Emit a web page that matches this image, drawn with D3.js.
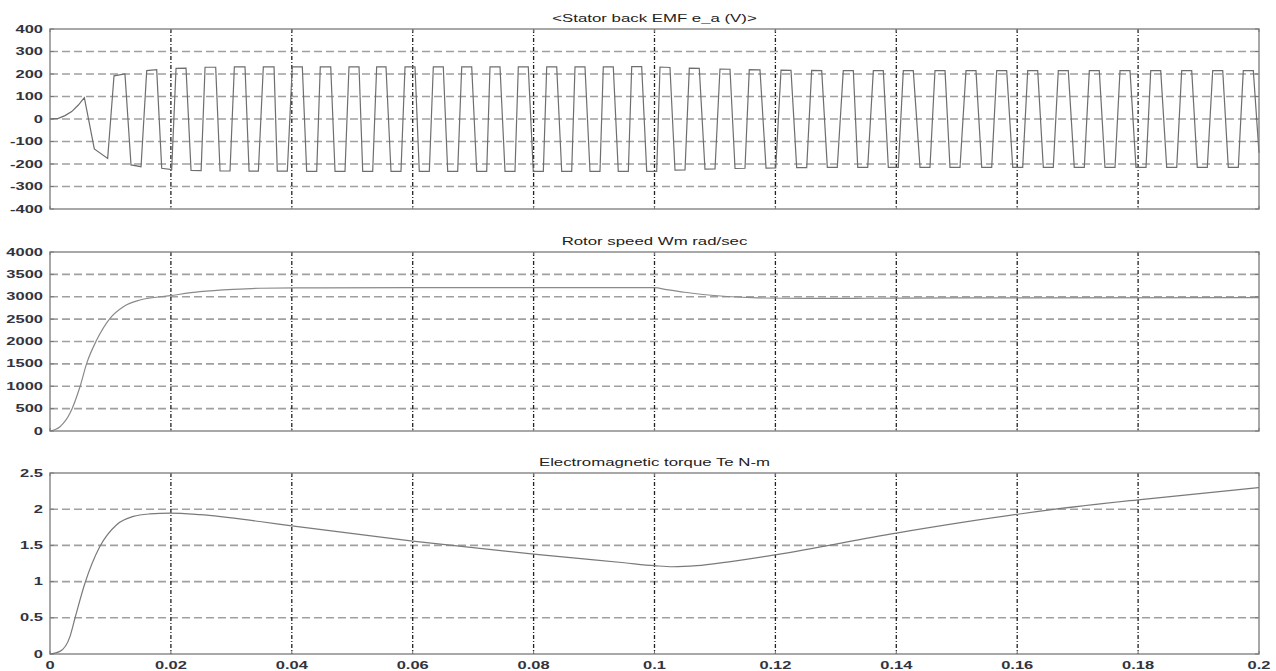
<!DOCTYPE html>
<html>
<head>
<meta charset="utf-8">
<script src="https://cdn.jsdelivr.net/npm/d3@7"></script>
<style>
  body { margin: 0; background: #fff; }
  svg { display: block; }
</style>
</head>
<body>
<div id="chart"></div>
<script>
// x axis of all three panels
var xTicks = [0, 0.02, 0.04, 0.06, 0.08, 0.1, 0.12, 0.14, 0.16, 0.18, 0.2];
var xTickLabels = ["0", "0.02", "0.04", "0.06", "0.08", "0.1", "0.12", "0.14", "0.16", "0.18", "0.2"];

var titles = ["<Stator back EMF e_a (V)>", "Rotor speed Wm rad/sec", "Electromagnetic torque Te N-m"];

var emfTicks = [-400, -300, -200, -100, 0, 100, 200, 300, 400];
var speedTicks = [0, 500, 1000, 1500, 2000, 2500, 3000, 3500, 4000];
var torqueTicks = [0, 0.5, 1, 1.5, 2, 2.5];

// back emf corners [t, volts]
var emfPoints = [
  [0, 0], [0.00138, 3], [0.00248, 15], [0.00359, 33], [0.00469, 62], [0.00568, 95],
  [0.00733, -133], [0.00954, -175],
  [0.01059, 192], [0.0124, 200], [0.0134, -204], [0.01506, -212],
  [0.016, 215], [0.01765, 219], [0.01848, -219], [0.02013, -225],
  [0.02085, 225], [0.0225, 226], [0.02333, -228], [0.025, -229],
  [0.02565, 230], [0.02741, 230], [0.02813, -231], [0.02978, -231],
  [0.0305, 232], [0.03226, 232], [0.03293, -232], [0.03447, -232],
  [0.03529, 232], [0.03706, 232], [0.0376, -232], [0.03926, -232],
  [0.04008, 232], [0.04174, 232], [0.04246, -233], [0.04412, -233],
  [0.04471, 232], [0.04644, 232], [0.04715, -233], [0.0488, -233],
  [0.04946, 232], [0.05112, 232], [0.05173, -233], [0.05338, -233],
  [0.05404, 232], [0.05558, 232], [0.05641, -233], [0.05806, -233],
  [0.05873, 232], [0.06038, 232], [0.06109, -233], [0.06275, -233],
  [0.06341, 232], [0.06506, 232], [0.06579, -233], [0.06744, -233],
  [0.06811, 232], [0.06976, 232], [0.07059, -233], [0.07224, -233],
  [0.07279, 232], [0.07444, 232], [0.07527, -233], [0.07692, -233],
  [0.07747, 232], [0.07912, 232], [0.07995, -233], [0.08161, -233],
  [0.08217, 232], [0.08382, 232], [0.08465, -233], [0.0863, -233],
  [0.08685, 232], [0.0885, 232], [0.08933, -233], [0.09098, -233],
  [0.09153, 232], [0.09318, 232], [0.09401, -233], [0.09567, -233],
  [0.09623, 233], [0.09788, 233], [0.09871, -233], [0.10036, -233],
  [0.10091, 231], [0.10256, 229], [0.10339, -227], [0.10505, -226],
  [0.10576, 226], [0.10741, 225], [0.10835, -223], [0.11001, -222],
  [0.11083, 222], [0.11249, 221], [0.11332, -220], [0.11497, -219],
  [0.11568, 219], [0.11745, 218], [0.11845, -218], [0.12005, -217],
  [0.12093, 217], [0.12258, 216], [0.12352, -216], [0.12518, -216],
  [0.126, 216], [0.12766, 215], [0.12859, -215], [0.13024, -215],
  [0.13123, 215], [0.13289, 215], [0.13362, -215], [0.13527, -215],
  [0.1362, 215], [0.13785, 215], [0.13868, -215], [0.14033, -215],
  [0.14116, 215], [0.14281, 215], [0.14392, -215], [0.14557, -215],
  [0.1464, 215], [0.14806, 215], [0.14888, -215], [0.15054, -215],
  [0.15153, 215], [0.15318, 215], [0.15413, -215], [0.15578, -215],
  [0.15661, 215], [0.15826, 215], [0.15926, -215], [0.16091, -215],
  [0.16174, 215], [0.16339, 215], [0.16432, -215], [0.16597, -215],
  [0.1668, 215], [0.16845, 215], [0.16944, -215], [0.1711, -215],
  [0.17193, 215], [0.17358, 215], [0.17452, -215], [0.17618, -215],
  [0.17701, 215], [0.17866, 215], [0.17965, -215], [0.18131, -215],
  [0.18209, 215], [0.18374, 215], [0.18473, -215], [0.18639, -215],
  [0.18721, 215], [0.18887, 215], [0.18979, -215], [0.19145, -215],
  [0.19234, 215], [0.194, 215], [0.19492, -215], [0.19658, -215],
  [0.1974, 215], [0.19906, 215], [0.2, -150]
];

// rotor speed [t, rad/s]
var speedPoints = [
  [0, 0], [0.00165, 96], [0.0033, 395], [0.00496, 990], [0.00607, 1512], [0.00772, 2033],
  [0.00993, 2518], [0.01213, 2778], [0.01489, 2927], [0.0199, 3024], [0.0248, 3113],
  [0.0303, 3166], [0.0347, 3190], [0.045, 3200], [0.06, 3203], [0.08, 3203], [0.1, 3203],
  [0.102, 3160], [0.105, 3100], [0.108, 3050], [0.112, 3005], [0.117, 2975], [0.125, 2962],
  [0.135, 2966], [0.15, 2975], [0.2, 2980]
];

// torque [t, N-m]
var torquePoints = [
  [0, 0], [0.00165, 0.036], [0.0033, 0.24], [0.00414, 0.497], [0.00579, 0.98], [0.00827, 1.487],
  [0.01103, 1.786], [0.01379, 1.9], [0.0165, 1.935], [0.0199, 1.947], [0.0248, 1.925],
  [0.0347, 1.83], [0.04, 1.77], [0.06, 1.56], [0.08, 1.38], [0.095, 1.26], [0.1, 1.22],
  [0.103, 1.205], [0.107, 1.22], [0.112, 1.27], [0.12, 1.37], [0.14, 1.67], [0.1654, 1.99],
  [0.18, 2.13], [0.2, 2.3]
];

var width = 1276, height = 671;
var left = 50, right = 1259;
var stretch = 1.6; // the picture is widened, text too

var svg = d3.select("#chart").append("svg")
  .attr("width", width)
  .attr("height", height);

var x = d3.scaleLinear().domain([0, 0.2]).range([left, right]);

var panels = [
  {title: titles[0], top: 29, bottom: 209, domain: [-400, 400], ticks: emfTicks, data: emfPoints, curve: d3.curveLinear, color: "#6e6e6e"},
  {title: titles[1], top: 252, bottom: 431, domain: [0, 4000], ticks: speedTicks, data: speedPoints, curve: d3.curveMonotoneX, color: "#8a8a8a"},
  {title: titles[2], top: 473, bottom: 654, domain: [0, 2.5], ticks: torqueTicks, data: torquePoints, curve: d3.curveMonotoneX, color: "#7a7a7a"}
];

function stretchedText(g, px, py, txt, anchor, cls) {
  return g.append("text")
    .attr("transform", "translate(" + px + "," + py + ") scale(" + stretch + ",1)")
    .attr("text-anchor", anchor)
    .attr("class", cls)
    .text(txt);
}

panels.forEach(function(p, idx) {
  var y = d3.scaleLinear().domain(p.domain).range([p.bottom, p.top]);
  var g = svg.append("g");

  // horizontal grid, skip the box edges
  g.selectAll(".hgrid")
    .data(p.ticks.slice(1, -1))
    .enter().append("line")
    .attr("x1", left).attr("x2", right)
    .attr("y1", function(d) { return y(d); })
    .attr("y2", function(d) { return y(d); })
    .attr("stroke", "#a0a0a0")
    .attr("stroke-width", 1.6)
    .attr("stroke-dasharray", "8,4");

  // vertical grid
  g.selectAll(".vgrid")
    .data(xTicks.slice(1, -1))
    .enter().append("line")
    .attr("x1", function(d) { return x(d); })
    .attr("x2", function(d) { return x(d); })
    .attr("y1", p.top).attr("y2", p.bottom)
    .attr("stroke", "#222")
    .attr("stroke-width", 1.3)
    .attr("stroke-dasharray", "4,2,1,2");

  // tick marks, inside, on left and right
  g.selectAll(".ytick")
    .data(p.ticks)
    .enter().append("path")
    .attr("d", function(d) {
      return "M" + left + "," + y(d) + "h4M" + right + "," + y(d) + "h-4";
    })
    .attr("stroke", "#777").attr("stroke-width", 1);

  g.selectAll(".xtick")
    .data(xTicks)
    .enter().append("path")
    .attr("d", function(d) {
      return "M" + x(d) + "," + p.bottom + "v-3M" + x(d) + "," + p.top + "v3";
    })
    .attr("stroke", "#777").attr("stroke-width", 1);

  // data line
  var line = d3.line()
    .x(function(d) { return x(d[0]); })
    .y(function(d) { return y(d[1]); })
    .curve(p.curve);

  g.append("path")
    .datum(p.data)
    .attr("d", line)
    .attr("fill", "none")
    .attr("stroke", p.color)
    .attr("stroke-width", 1.2);

  // box
  g.append("rect")
    .attr("x", left).attr("y", p.top)
    .attr("width", right - left).attr("height", p.bottom - p.top)
    .attr("fill", "none")
    .attr("stroke", "#7a7a7a")
    .attr("stroke-width", 1.3);

  // y labels
  p.ticks.forEach(function(t) {
    stretchedText(g, 43, y(t) + 3.6, String(t), "end", "tick");
  });

  // title
  stretchedText(g, (left + right) / 2, p.top - 7.5, p.title, "middle", "title");

  // x labels only under the last panel
  if (idx === panels.length - 1) {
    xTicks.forEach(function(t, i) {
      stretchedText(g, x(t), p.bottom + 14.5, xTickLabels[i], "middle", "tick");
    });
  }
});

svg.selectAll(".tick")
  .style("font-family", "'Liberation Sans', Arial, sans-serif")
  .style("font-size", "10.3px")
  .style("font-weight", "bold")
  .style("fill", "#33333d");

svg.selectAll(".title")
  .style("font-family", "'Liberation Sans', Arial, sans-serif")
  .style("font-size", "10.5px")
  .style("fill", "#222");
</script>
</body>
</html>
